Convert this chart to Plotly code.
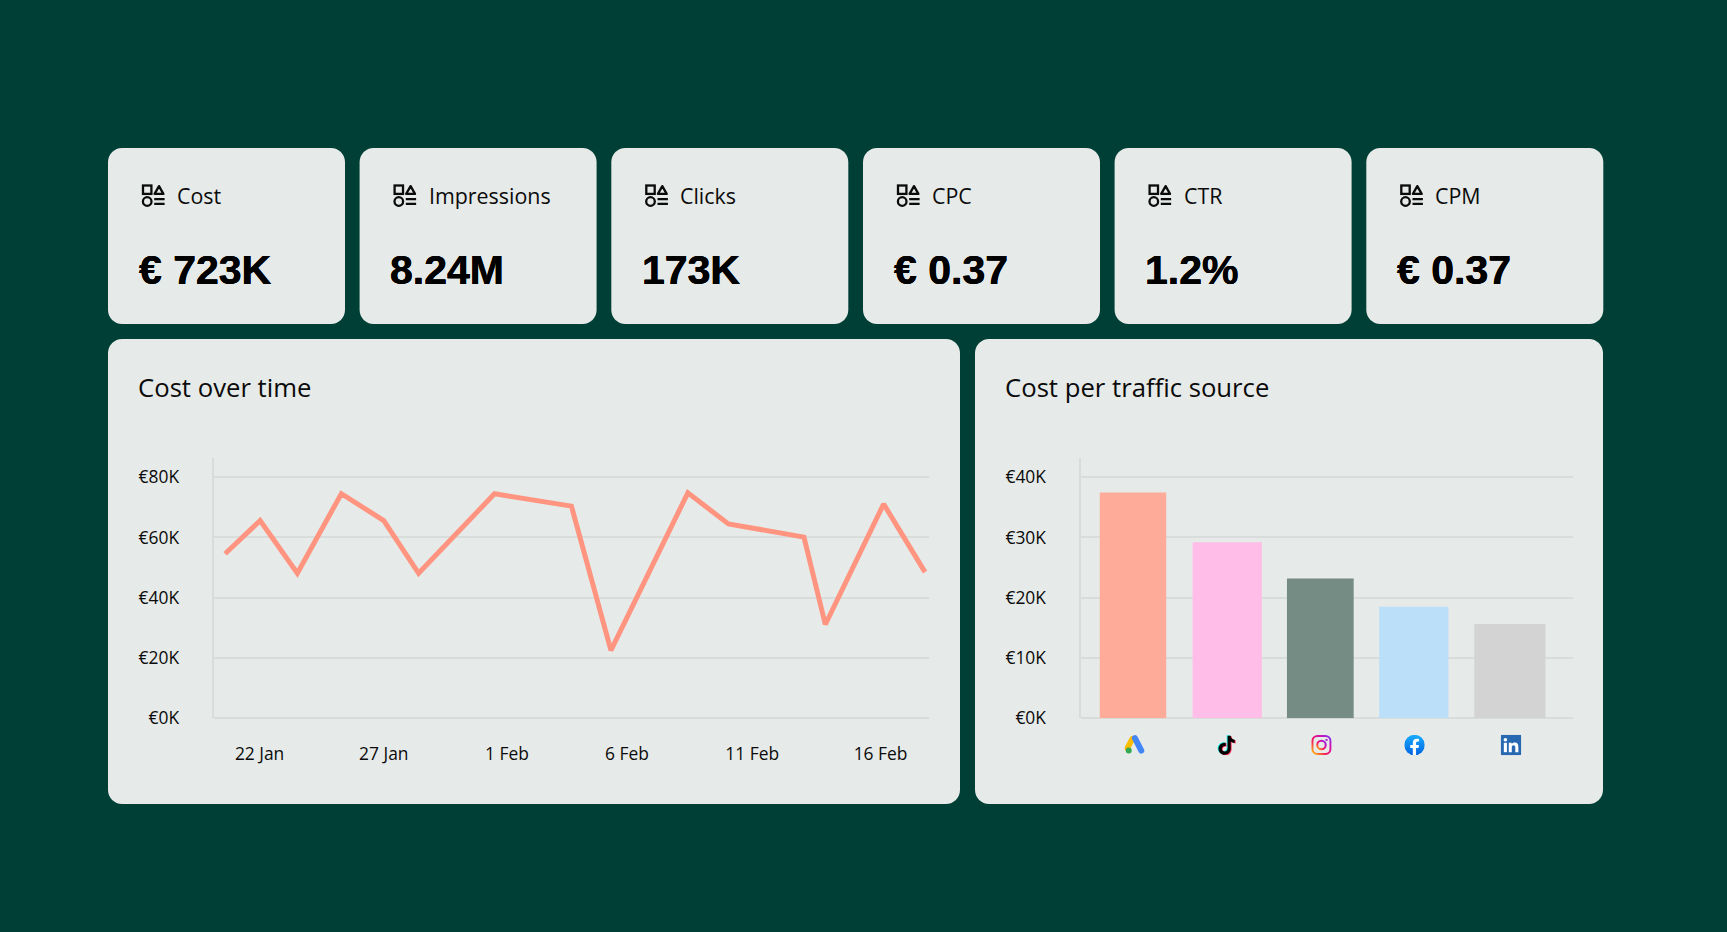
import base64
import plotly.graph_objects as go

W, H = 1727, 932

# ---------- data ----------
kpi_names = ["Cost", "Impressions", "Clicks", "CPC", "CTR", "CPM"]
kpi_values = ["€ 723K", "8.24M", "173K", "€ 0.37", "1.2%", "€ 0.37"]

line_dates = ["2024-01-20 14:40", "2024-01-22 00:30", "2024-01-23 12:30", "2024-01-25 07:00",
              "2024-01-27 00:00", "2024-01-28 09:40", "2024-01-31 11:00", "2024-02-03 13:20",
              "2024-02-05 03:30", "2024-02-08 05:50", "2024-02-09 21:00", "2024-02-12 22:00",
              "2024-02-13 18:40", "2024-02-16 03:00", "2024-02-17 19:00"]
line_values = [54.6, 65.6, 48.1, 74.5, 65.6, 48.1, 74.5, 70.4, 22.5, 74.8, 64.5, 60.1, 31.1, 71.1, 48.5]
date_ticks = ["2024-01-22", "2024-01-27 00:00", "2024-01-31 23:00", "2024-02-05 19:00", "2024-02-10 20:00", "2024-02-16 00:00"]
date_labels = ["22 Jan", "27 Jan", "1 Feb", "6 Feb", "11 Feb", "16 Feb"]
line_yticks = [0, 20, 40, 60, 80]
line_ylabels = ["€0K", "€20K", "€40K", "€60K", "€80K"]

sources = ["Google Ads", "TikTok", "Instagram", "Facebook", "LinkedIn"]
source_values = [37.45, 29.2, 23.2, 18.5, 15.65]
bar_yticks = [0, 10, 20, 30, 40]
bar_ylabels = ["€0K", "€10K", "€20K", "€30K", "€40K"]

# ---------- styles ----------
BG = "#003F35"
CARD = "#E6EAE8"
GRID = "#D8DCDA"
TEXT = "#0B0B0B"
FONT = "Open Sans"
bar_colors = ["#FFAB99", "#FFBDE8", "#748C84", "#BBDFF9", "#D3D3D3"]
bar_widths = [0.705, 0.735, 0.708, 0.735, 0.755]
bar_nudges = [0.0, 0.0, -0.012, -0.02, 0.0]
logo_nudges = [0.02, 0.0, 0.0, -0.012, 0.012]


def px(x):
    return x / W


def py(y):
    return 1 - y / H


def rounded(x0, y0, x1, y1, r=14):
    a, b, c, d = px(x0), py(y0), px(x1), py(y1)
    rx, ry = r / W, r / H
    k = 0.45
    path = (f"M{a+rx},{b} L{c-rx},{b} C{c-rx*k},{b} {c},{b-ry*k} {c},{b-ry} "
            f"L{c},{d+ry} C{c},{d+ry*k} {c-rx*k},{d} {c-rx},{d} "
            f"L{a+rx},{d} C{a+rx*k},{d} {a},{d+ry*k} {a},{d+ry} "
            f"L{a},{b-ry} C{a},{b-ry*k} {a+rx*k},{b} {a+rx},{b} Z")
    return dict(type="path", xref="paper", yref="paper", path=path,
                fillcolor=CARD, line=dict(width=0), layer="below")


def uri(svg):
    return "data:image/svg+xml;base64," + base64.b64encode(svg.encode()).decode()


def svg(body, size=96):
    return (f'<svg xmlns="http://www.w3.org/2000/svg" width="{size}" height="{size}" '
            f'viewBox="0 0 24 24">{body}</svg>')


KPI_ICON = svg('<rect x="2" y="2" width="8.4" height="8.4" fill="none" stroke="#0b0b0b" stroke-width="2.3"/>'
               '<path d="M18 2.6 L22.4 10.4 H13.6 Z" fill="none" stroke="#0b0b0b" stroke-width="2.3" stroke-linejoin="round"/>'
               '<circle cx="6.2" cy="18" r="4.3" fill="none" stroke="#0b0b0b" stroke-width="2.3"/>'
               '<path d="M13.2 15.6 H23.6 M13.2 20.4 H23.6" stroke="#0b0b0b" stroke-width="2.3"/>')

TT = ("M12.5 2h3.2c.2 2.4 1.7 4 4.3 4.2v3.3c-1.6 0-3-.5-4.2-1.4v7.4c0 3.8-3 6.5-6.4 6.5"
      "-3.6 0-6.4-2.8-6.4-6.3 0-3.9 3.4-6.9 7.5-6.3v3.5c-2.1-.5-4 .9-4 2.8 0 1.6 1.3 2.9 2.9 2.9"
      " 1.7 0 3.1-1.2 3.1-3.4z")

LOGOS = [
    svg('<path d="M9.2 4.5 L3 16" stroke="#FBBC04" stroke-width="6.6" stroke-linecap="round"/>'
        '<path d="M12 4 L19.5 18.5" stroke="#4285F4" stroke-width="7" stroke-linecap="round"/>'
        '<circle cx="4.8" cy="18.4" r="3.5" fill="#34A853"/>'),
    svg(f'<g transform="translate(-1.6 -1.2) scale(1.12)"><path d="{TT}" fill="#25F4EE" transform="translate(-.9 -.5)"/>'
        f'<path d="{TT}" fill="#FE2C55" transform="translate(.9 .6)"/>'
        f'<path d="{TT}" fill="#000"/></g>'),
    svg('<defs><linearGradient id="g" x1="0" y1="1" x2="1" y2="0">'
        '<stop offset="0" stop-color="#FFC107"/><stop offset=".4" stop-color="#F9105F"/>'
        '<stop offset=".75" stop-color="#C913B9"/><stop offset="1" stop-color="#7B2FF7"/></linearGradient></defs>'
        '<rect x="1.4" y="1.4" width="21.2" height="21.2" rx="6" fill="none" stroke="url(#g)" stroke-width="2.4"/>'
        '<circle cx="12" cy="12" r="5" fill="none" stroke="url(#g)" stroke-width="2.4"/>'
        '<circle cx="18" cy="6" r="1.4" fill="#B52BC9"/>'),
    svg('<defs><linearGradient id="f" x1="0" y1="0" x2="0" y2="1">'
        '<stop offset="0" stop-color="#18ACFE"/><stop offset="1" stop-color="#0163E0"/></linearGradient></defs>'
        '<circle cx="12" cy="12" r="12" fill="url(#f)"/>'
        '<path d="M16.7 15.5l.5-3.5h-3.4V9.8c0-1 .5-1.9 2-1.9h1.5v-3s-1.4-.2-2.7-.2c-2.8 0-4.6 1.7-4.6 4.7V12H7v3.5h3v8.4a12 12 0 0 0 3.8 0v-8.4z" fill="#fff"/>'),
    svg('<rect width="24" height="24" rx="1.5" fill="#2867B2"/>'
        '<rect x="3.6" y="9.4" width="3.6" height="11" fill="#fff"/>'
        '<circle cx="5.4" cy="5.8" r="2.1" fill="#fff"/>'
        '<path d="M9.4 9.4h3.4v1.6c.6-1.1 1.9-1.9 3.6-1.9 3.2 0 4.2 2 4.2 5v6.3h-3.6v-5.6c0-1.5-.4-2.6-1.9-2.6-1.6 0-2.2 1.2-2.2 2.6v5.6H9.4z" fill="#fff"/>'),
]

shapes, annotations, images = [], [], []

card_lefts = [108, 359.6, 611.3, 863, 1114.6, 1366.3]
for left, name, value in zip(card_lefts, kpi_names, kpi_values):
    shapes.append(rounded(left, 148, left + 237, 324))
    images.append(dict(source=uri(KPI_ICON), xref="paper", yref="paper", x=px(left + 33), y=py(183.5),
                       sizex=24 / W, sizey=24 / H, xanchor="left", yanchor="top", layer="above"))
    annotations.append(dict(text=name, xref="paper", yref="paper", x=px(left + 67), y=py(195.7),
                            xanchor="left", yanchor="middle", showarrow=False,
                            font=dict(family=FONT, size=21.4, color=TEXT)))
    annotations.append(dict(text=value, xref="paper", yref="paper", x=px(left + 28.5), y=py(269.5),
                            xanchor="left", yanchor="middle", showarrow=False,
                            font=dict(family="Liberation Sans", size=41, color="#000", weight=700,
                                      shadow="0.3px 0 0 #000, -0.3px 0 0 #000")))

shapes.append(rounded(108, 339, 960, 804))
shapes.append(rounded(975, 339, 1603, 804))
for x, title in ((136.2, "Cost over time"), (1003.2, "Cost per traffic source")):
    annotations.append(dict(text=title, xref="paper", yref="paper", x=px(x), y=py(387.5),
                            xanchor="left", yanchor="middle", showarrow=False,
                            font=dict(family=FONT, size=25.7, color=TEXT)))

for i, (logo, nudge) in enumerate(zip(LOGOS, logo_nudges)):
    images.append(dict(source=uri(logo), xref="x2", yref="paper", x=i + nudge, y=py(745),
                       sizex=20.5 / 94.2, sizey=20.5 / H, xanchor="center", yanchor="middle",
                       sizing="contain", layer="above"))

fig = go.Figure()
fig.add_trace(go.Scatter(x=line_dates, y=line_values, mode="lines", xaxis="x", yaxis="y",
                         line=dict(color="#FF9580", width=5, shape="linear"),
                         hoverinfo="skip", showlegend=False))
fig.add_trace(go.Bar(x=sources, y=source_values, xaxis="x2", yaxis="y2", width=bar_widths,
                     offset=[n - w / 2 for n, w in zip(bar_nudges, bar_widths)],
                     marker=dict(color=bar_colors, line=dict(width=0)),
                     hoverinfo="skip", showlegend=False))

tick_font = dict(family=FONT, size=17.4, color=TEXT)
y_common = dict(showgrid=True, gridcolor=GRID, gridwidth=1.5, zeroline=True, zerolinecolor=GRID,
                zerolinewidth=1.5, showline=True, linecolor=GRID, linewidth=1.5, ticks="",
                tickfont=tick_font, ticklabelstandoff=30, fixedrange=True, automargin=False)
x_common = dict(showgrid=False, zeroline=False, showline=False, ticks="", tickfont=tick_font,
                ticklabelstandoff=23, fixedrange=True, automargin=False)

fig.update_layout(
    width=W, height=H, margin=dict(l=0, r=0, t=0, b=0, pad=0),
    paper_bgcolor=BG, plot_bgcolor="rgba(0,0,0,0)",
    font=dict(family=FONT, color=TEXT),
    shapes=shapes, annotations=annotations, images=images,
    hovermode=False,
    xaxis=dict(domain=[px(214.3), px(929)], type="date",
               range=["2024-01-20 04:15", "2024-02-17 22:50"],
               tickmode="array", tickvals=date_ticks, ticktext=date_labels, anchor="y", **x_common),
    yaxis=dict(domain=[py(718.2), py(458.2)], range=[0, 86.3], tickmode="array",
               tickvals=line_yticks, ticktext=line_ylabels, anchor="x", **y_common),
    xaxis2=dict(domain=[px(1081.2), px(1573)], type="category", categoryorder="array",
                categoryarray=sources, range=[-0.55, 4.67], showticklabels=False, anchor="y2",
                showgrid=False, zeroline=False, showline=False, ticks="", fixedrange=True,
                automargin=False),
    yaxis2=dict(domain=[py(718.2), py(458.2)], range=[0, 43.15], tickmode="array",
                tickvals=bar_yticks, ticktext=bar_ylabels, anchor="x2", **y_common),
)

fig.write_html("out.html", config=dict(displayModeBar=False),
               post_script="document.body.style.margin='0';document.body.style.overflow='hidden';"
                           f"document.body.style.background='{BG}';")
